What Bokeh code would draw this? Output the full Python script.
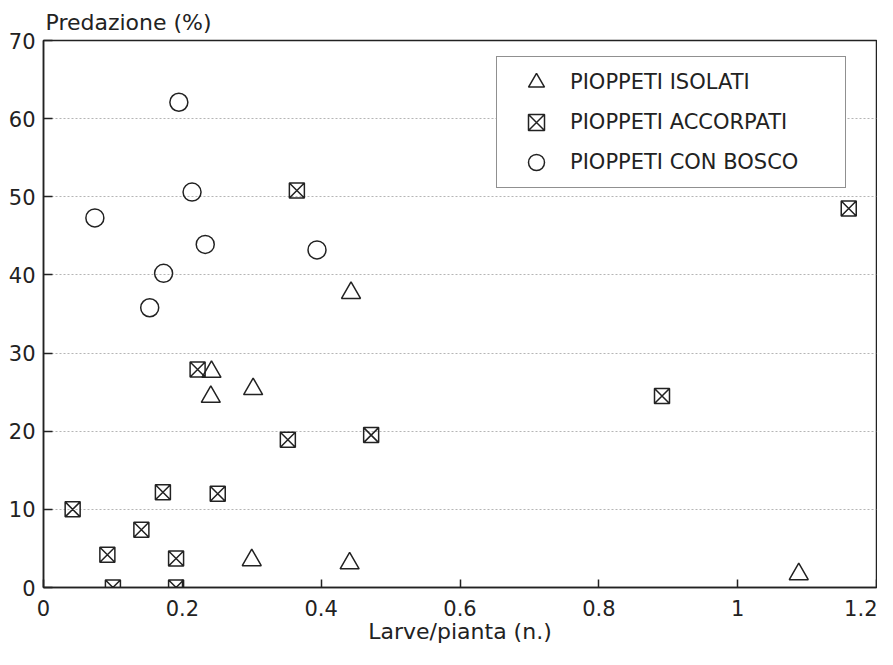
from bokeh.plotting import figure
from bokeh.models import Range1d, FixedTicker
from bokeh.embed import file_html
from bokeh.resources import INLINE

# ---- data ----
iso_x = [0.443, 0.242, 0.302, 0.241, 0.300, 0.441, 1.088]
iso_y = [37.7, 27.6, 25.4, 24.4, 3.5, 3.1, 1.7]

acc_x = [0.365, 0.222, 0.352, 0.472, 0.891, 1.160, 0.172, 0.251, 0.042, 0.141, 0.092, 0.191, 0.100, 0.191]
acc_y = [50.8, 27.9, 18.9, 19.5, 24.5, 48.5, 12.2, 12.0, 10.0, 7.4, 4.2, 3.7, 0.0, 0.0]

bos_x = [0.195, 0.214, 0.074, 0.233, 0.394, 0.173, 0.153]
bos_y = [62.1, 50.6, 47.3, 43.9, 43.2, 40.2, 35.8]

series_labels = ["PIOPPETI ISOLATI", "PIOPPETI ACCORPATI", "PIOPPETI CON BOSCO"]
x_ticks = [0, 0.2, 0.4, 0.6, 0.8, 1.0, 1.2]
x_tick_labels = ["0", "0.2", "0.4", "0.6", "0.8", "1", "1.2"]
y_ticks = [0, 10, 20, 30, 40, 50, 60, 70]
x_title = "Larve/pianta (n.)"
y_title = "Predazione (%)"

FONT = "DejaVu Sans"
INK = "#222222"

p = figure(width=877, height=649, output_backend="svg", toolbar_location=None,
           x_range=Range1d(0, 1.2), y_range=Range1d(0, 70),
           min_border_left=43, min_border_right=1, min_border_top=40, min_border_bottom=62,
           background_fill_color="white", border_fill_color="white")

p.title.text = y_title
p.title.align = "left"
p.title.offset = 2
p.title.standoff = 11
p.title.text_font = FONT
p.title.text_font_size = "22px"
p.title.text_font_style = "normal"
p.title.text_color = INK

p.outline_line_color = INK
p.outline_line_width = 1.5

# axes
p.xaxis.ticker = FixedTicker(ticks=x_ticks)
p.xaxis.major_label_overrides = dict(zip(x_ticks, x_tick_labels))
p.yaxis.ticker = FixedTicker(ticks=y_ticks)
p.xaxis.axis_label = x_title
for ax in (p.xaxis, p.yaxis):
    ax.axis_line_color = INK
    ax.axis_line_width = 1.5
    ax.major_tick_line_color = INK
    ax.major_tick_line_width = 1.5
    ax.major_tick_out = 0
    ax.minor_tick_line_color = None
    ax.major_label_text_font = FONT
    ax.major_label_text_font_size = "21px"
    ax.major_label_text_color = INK
p.xaxis.major_tick_in = 8
p.yaxis.major_tick_in = 9
p.xaxis.major_label_standoff = 12
p.yaxis.major_label_standoff = 8
p.xaxis.axis_label_standoff = 0
p.xaxis.axis_label_text_font = FONT
p.xaxis.axis_label_text_font_size = "22px"
p.xaxis.axis_label_text_font_style = "normal"
p.xaxis.axis_label_text_color = INK

# grid
p.xgrid.grid_line_color = None
p.ygrid.ticker = FixedTicker(ticks=y_ticks)
p.ygrid.grid_line_color = "#b5b5b5"
p.ygrid.grid_line_dash = "2 2"
p.ygrid.grid_line_width = 1

# points
p.scatter(iso_x, iso_y, marker="triangle", size=19, line_color=INK, line_width=1.5,
          fill_color=None, legend_label=series_labels[0])
p.scatter(acc_x, acc_y, marker="square_x", size=15, line_color=INK, line_width=1.5,
          fill_color=None, legend_label=series_labels[1])
p.scatter(bos_x, bos_y, marker="circle", size=18, line_color=INK, line_width=1.5,
          fill_color=None, legend_label=series_labels[2])

lg = p.legend[0]
lg.location = (453, 399)
lg.margin = 0
lg.padding = 5
lg.spacing = 0
lg.glyph_width = 68
lg.glyph_height = 40
lg.label_height = 40
lg.label_width = 270
lg.label_standoff = 0
lg.label_text_font = FONT
lg.label_text_font_size = "21px"
lg.label_text_color = INK
lg.label_text_baseline = "middle"
lg.border_line_color = INK
lg.border_line_width = 1.5
lg.background_fill_color = "white"
lg.background_fill_alpha = 1.0

open("out.html", "w").write(file_html(p, INLINE))
